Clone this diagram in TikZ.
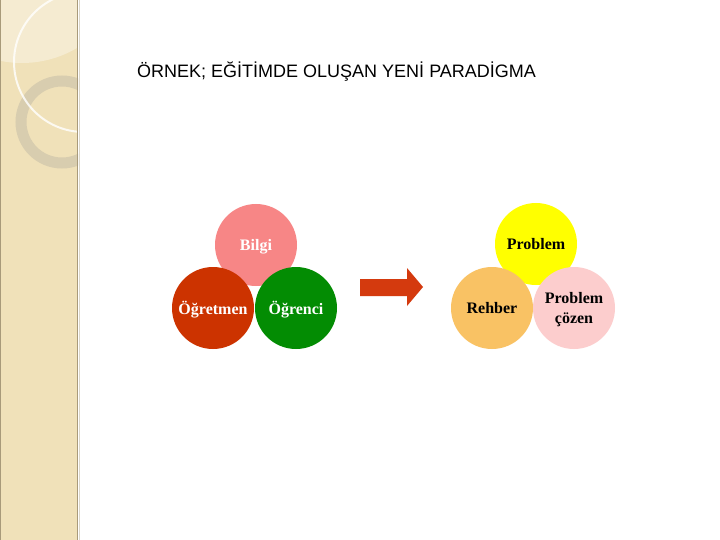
\documentclass[tikz,border=0pt]{standalone}
\usepackage{fontspec}
\setmainfont{Liberation Serif}
\newfontfamily\titlefont{Liberation Sans}
\definecolor{stripbg}{HTML}{F0E1B9}
\definecolor{stripedge}{HTML}{A89A7A}
\definecolor{ringgrey}{HTML}{D8CDAF}
\definecolor{cpink}{HTML}{F78686}
\definecolor{cred}{HTML}{CC3300}
\definecolor{cgreen}{HTML}{038C03}
\definecolor{cyellow}{HTML}{FFFF00}
\definecolor{corange}{HTML}{F9C264}
\definecolor{clpink}{HTML}{FCCDCD}
\definecolor{carrow}{HTML}{D43A0E}
\tikzset{
  bubble/.style={circle, minimum size=82pt, inner sep=0pt, align=center,
    font=\fontsize{16}{20}\selectfont\bfseries, text depth=0pt},
  wbubble/.style={bubble, text=white},
  kbubble/.style={bubble, text=black},
}
\begin{document}
\begin{tikzpicture}[x=1pt,y=-1pt]
\useasboundingbox (0,0) rectangle (720,540);
\fill[white] (0,0) rectangle (720,540);
% left decorative strip
\begin{scope}
\clip (0,0) rectangle (78,540);
\fill[stripbg] (0,0) rectangle (78,540);
\fill[white, opacity=0.35] (22,-45) circle (108);
\draw[ringgrey, line width=11pt] (62,122) circle (41);
\draw[white, opacity=0.8, line width=2pt] (84,62) circle (70);
\end{scope}
\draw[stripedge, line width=1pt] (0.5,0) -- (0.5,540);
\draw[stripedge, line width=1.5pt] (77.5,0) -- (77.5,540);
\draw[stripedge!40, line width=1pt] (79.5,0) -- (79.5,540);
% title
\node[anchor=base west, inner sep=0pt, font=\titlefont\fontsize{18}{18}\selectfont] (title) at (137,78) {ÖRNEK; EĞİTİMDE OLUŞAN YENİ PARADİGMA};
% left group
\node[wbubble, fill=cpink] (bilgi) at (256,245) {Bilgi};
\node[wbubble, fill=cred] (ogretmen) at (213,308) {Öğretmen};
\node[wbubble, fill=cgreen] (ogrenci) at (296,308) {Öğrenci};
% arrow
\fill[carrow] (360,279) -- (407,279) -- (407,268) -- (423,287) -- (407,306) -- (407,296) -- (360,296) -- cycle;
% right group
\node[kbubble, fill=cyellow] (problem) at (536,244) {Problem};
\node[kbubble, fill=corange] (rehber) at (492,308) {Rehber};
\node[kbubble, fill=clpink] (cozen) at (574,308) {Problem\\çözen};
\end{tikzpicture}
\end{document}
